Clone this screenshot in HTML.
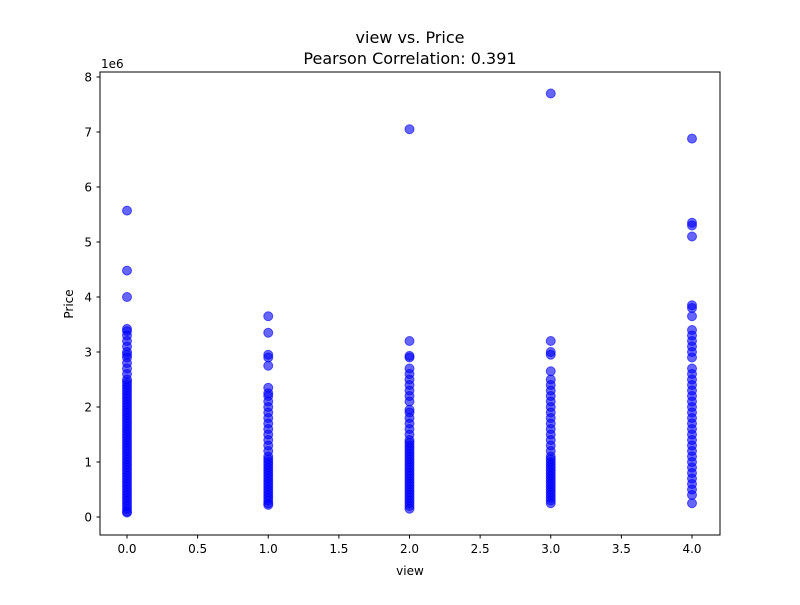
<!DOCTYPE html>
<html><head><meta charset="utf-8"><style>
body{margin:0;background:#fff;font-family:"Liberation Sans","DejaVu Sans",sans-serif;}
svg text{font-family:"DejaVu Sans","Liberation Sans",sans-serif;}
</style></head><body>
<svg id="chart" width="800" height="600">
<rect width="800" height="600" fill="#fff"/>
<text x="410" y="43" text-anchor="middle" font-size="16">view vs. Price</text>
<text x="410" y="64" text-anchor="middle" font-size="16">Pearson Correlation: 0.391</text>
<g id="points"></g>
<rect x="100" y="72" width="620" height="463" fill="none" stroke="#000" stroke-width="1"/>
<g id="axes"></g>
<text x="410" y="575" text-anchor="middle" font-size="12">view</text>
<text x="73" y="304" text-anchor="middle" font-size="12" transform="rotate(-90 73 304)">Price</text>
<text x="101" y="68" font-size="12">1e6</text>
</svg>
<script>
const xTicks=[0,0.5,1,1.5,2,2.5,3,3.5,4];
const xTickLabels=["0.0","0.5","1.0","1.5","2.0","2.5","3.0","3.5","4.0"];
const yTicks=[0,1,2,3,4,5,6,7,8];
const yTickLabels=["0","1","2","3","4","5","6","7","8"];
const views=[0,1,2,3,4];
const prices0=[0.08,0.1,0.15,0.2,0.25,0.3,0.35,0.4,0.45,0.5,0.55,0.6,0.65,0.7,0.75,0.8,0.85,0.9,0.95,1.0,1.05,1.1,1.15,1.2,1.25,1.3,1.35,1.4,1.45,1.5,1.55,1.6,1.65,1.7,1.75,1.8,1.85,1.9,1.95,2.0,2.05,2.1,2.15,2.2,2.25,2.3,2.35,2.4,2.45,2.5,2.6,2.7,2.8,2.9,2.95,3.0,3.1,3.2,3.3,3.38,3.42,4.0,4.48,5.57];
const prices1=[0.22,0.25,0.3,0.35,0.4,0.45,0.5,0.55,0.6,0.65,0.7,0.75,0.8,0.85,0.9,0.95,1.0,1.05,1.1,1.2,1.3,1.4,1.5,1.6,1.7,1.8,1.9,2.0,2.1,2.2,2.25,2.35,2.75,2.9,2.95,3.35,3.65];
const prices2=[0.15,0.2,0.25,0.3,0.35,0.4,0.45,0.5,0.55,0.6,0.65,0.7,0.75,0.8,0.85,0.9,0.95,1.0,1.05,1.1,1.15,1.2,1.25,1.3,1.35,1.4,1.5,1.6,1.7,1.8,1.9,1.95,2.1,2.2,2.3,2.4,2.5,2.6,2.7,2.9,2.93,3.2,7.05];
const prices3=[0.25,0.3,0.35,0.4,0.45,0.5,0.55,0.6,0.65,0.7,0.75,0.8,0.85,0.9,0.95,1.0,1.05,1.1,1.2,1.3,1.4,1.5,1.6,1.7,1.8,1.9,2.0,2.1,2.2,2.3,2.4,2.5,2.65,2.95,3.0,3.2,7.7];
const prices4=[0.25,0.4,0.5,0.6,0.7,0.8,0.9,1.0,1.1,1.2,1.3,1.4,1.5,1.6,1.7,1.8,1.9,2.0,2.1,2.2,2.3,2.4,2.5,2.6,2.7,2.9,3.0,3.1,3.2,3.3,3.4,3.65,3.8,3.85,5.1,5.3,5.35,6.88];
const allPrices=[prices0,prices1,prices2,prices3,prices4];
const NS="http://www.w3.org/2000/svg";
function xScale(v){return 127+v*141.25;}
function yScale(v){return 517-v*55;}
const pts=document.getElementById('points');
views.forEach((v,i)=>{allPrices[i].forEach(p=>{
 const c=document.createElementNS(NS,'circle');
 c.setAttribute('cx',xScale(v));c.setAttribute('cy',yScale(p));c.setAttribute('r',4.5);
 c.setAttribute('fill','rgba(0,0,255,0.6)');c.setAttribute('stroke','rgba(0,0,255,0.6)');c.setAttribute('stroke-width','1');
 
 
 pts.appendChild(c);});});
const ax=document.getElementById('axes');
xTicks.forEach((t,i)=>{const x=xScale(t);
 const l=document.createElementNS(NS,'line');l.setAttribute('x1',x);l.setAttribute('x2',x);l.setAttribute('y1',535);l.setAttribute('y2',538.5);l.setAttribute('stroke','#000');
 
 
 ax.appendChild(l);
 const tx=document.createElementNS(NS,'text');tx.setAttribute('x',x);tx.setAttribute('y',553);tx.setAttribute('text-anchor','middle');tx.setAttribute('font-size','12');tx.textContent=xTickLabels[i];
 
 
 ax.appendChild(tx);});
yTicks.forEach((t,i)=>{const y=yScale(t);
 const l=document.createElementNS(NS,'line');l.setAttribute('x1',96.5);l.setAttribute('x2',100);l.setAttribute('y1',y);l.setAttribute('y2',y);l.setAttribute('stroke','#000');
 
 
 ax.appendChild(l);
 const tx=document.createElementNS(NS,'text');tx.setAttribute('x',92);tx.setAttribute('y',y+4.5);tx.setAttribute('text-anchor','end');tx.setAttribute('font-size','12');tx.textContent=yTickLabels[i];
 
 
 ax.appendChild(tx);});
</script>
</body></html>
